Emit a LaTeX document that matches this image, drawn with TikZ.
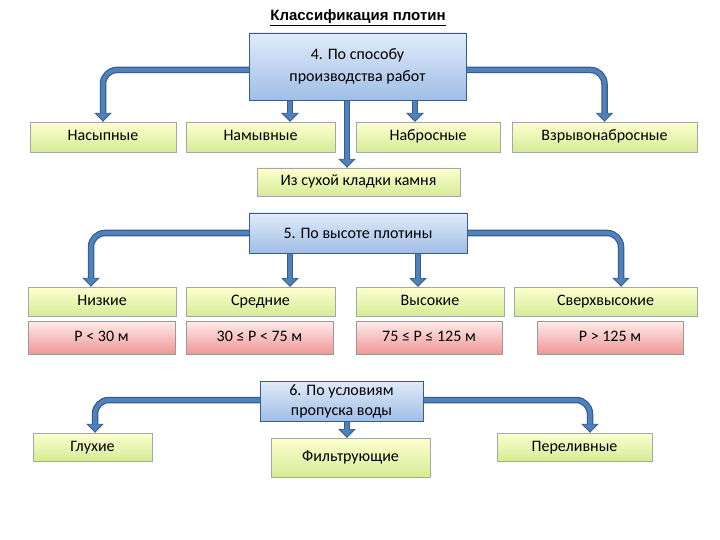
\documentclass[tikz,border=0pt]{standalone}
\usepackage{fontspec}
\setmainfont{Carlito}
\newfontfamily\titlefont{Liberation Sans}
\usetikzlibrary{arrows.meta}
\definecolor{arrb}{RGB}{79,129,189}
\definecolor{arrd}{RGB}{56,93,138}
\begin{document}
\begin{tikzpicture}[x=1pt,y=-1pt,
 green/.style={draw=black!35,top color=white!60!green!12!yellow!20,bottom color={rgb,255:red,215;green,235;blue,150},inner sep=0pt,text height=11pt,text depth=3pt,font=\fontsize{16}{18}\selectfont},
 red/.style={draw=black!40,top color={rgb,255:red,255;green,235;blue,235},bottom color={rgb,255:red,240;green,150;blue,150},inner sep=0pt,text height=11pt,text depth=3pt,font=\fontsize{16}{18}\selectfont},
 head/.style={draw=arrd,top color={rgb,255:red,225;green,235;blue,250},bottom color={rgb,255:red,160;green,190;blue,230},inner sep=0pt,align=center,font=\fontsize{16}{22}\selectfont},
 arr/.style={draw=arrd,line width=6.5pt,rounded corners=14pt,-{Triangle[length=9pt,width=17pt]},
   postaction={draw=arrb,line width=4pt,-{Triangle[length=7pt,width=13pt]},shorten >=1.5pt}}]
\useasboundingbox[fill=white] (0,0) rectangle (720,540);
\node[font=\titlefont\bfseries\fontsize{15}{17}\selectfont] (t) at (358,18) {\underline{Классификация плотин}};
% row 1 targets
\node[green,minimum width=146,minimum height=30] (a1) at (103,137) {Насыпные};
\node[green,minimum width=149,minimum height=30] (a2) at (260.5,137) {Намывные};
\node[green,minimum width=144,minimum height=30] (a3) at (428,137) {Набросные};
\node[green,minimum width=185,minimum height=30] (a4) at (604.5,137) {Взрывонабросные};
\node[green,minimum width=203,minimum height=28] (a5) at (358.5,182) {Из сухой кладки камня};
\draw[arr] (300,70) -| (a1.north);
\draw[arr] (400,70) -| (a4.north);
\draw[arr] (290,95) -- (290,122);
\draw[arr] (415,95) -- (415,122);
\draw[arr] (347,95) -- (a5.north -| 347,0);
\node[head,minimum width=217,minimum height=67] (h4) at (357.5,66.5) {4. По способу\\производства работ};
% block 5
\node[green,minimum width=148,minimum height=29] (b1) at (102,301.5) {Низкие};
\node[green,minimum width=149,minimum height=29] (b2) at (260.5,301.5) {Средние};
\node[green,minimum width=148,minimum height=29] (b3) at (430,301.5) {Высокие};
\node[green,minimum width=183,minimum height=29] (b4) at (605.5,301.5) {Сверхвысокие};
\node[red,minimum width=147,minimum height=33] (c1) at (101.5,337.5) {P < 30 м};
\node[red,minimum width=147,minimum height=33] (c2) at (259.5,337.5) {30 ≤ P < 75 м};
\node[red,minimum width=146,minimum height=33] (c3) at (429,337.5) {75 ≤ P ≤ 125 м};
\node[red,minimum width=146,minimum height=33] (c4) at (610,337.5) {P > 125 м};
\draw[arr] (300,233) -| (b1.north -| 91,0);
\draw[arr] (400,233) -| (b4.north -| 621,0);
\draw[arr] (290,250) -- (290,287);
\draw[arr] (418,250) -- (418,287);
\node[head,minimum width=218,minimum height=40] (h5) at (358,233) {5. По высоте плотины};
% block 6
\node[green,minimum width=119,minimum height=28] (d1) at (92.5,447) {Глухие};
\node[green,minimum width=159,minimum height=39] (d2) at (350.5,457.5) {Фильтрующие};
\node[green,minimum width=155,minimum height=28] (d3) at (574.5,447) {Переливные};
\draw[arr] (300,400) -| (d1.north -| 95,0);
\draw[arr] (400,400) -| (d3.north -| 590,0);
\draw[arr] (347,418) -- (347,438);
\node[head,minimum width=163,minimum height=40,font=\fontsize{16}{20}\selectfont] (h6) at (341.5,401) {6. По условиям\\пропуска воды};
\end{tikzpicture}
\end{document}
